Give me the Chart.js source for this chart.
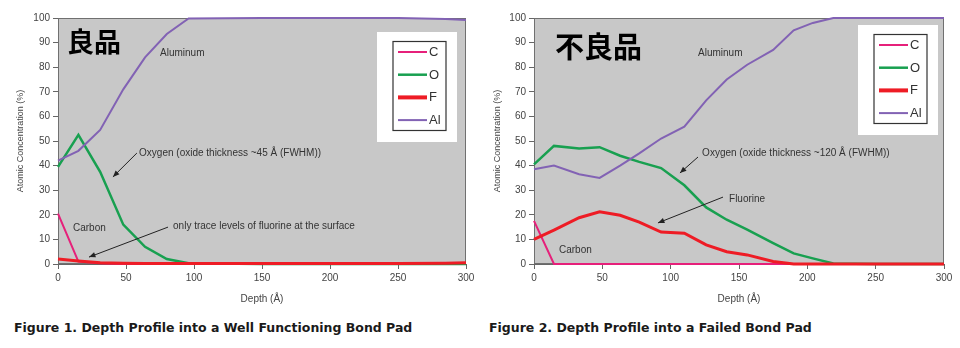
<!DOCTYPE html>
<html>
<head>
<meta charset="utf-8">
<script src="https://cdn.jsdelivr.net/npm/chart.js@4.4.1/dist/chart.umd.min.js"></script>
<style>
  body { margin: 0; background: #fff; width: 960px; height: 348px; overflow: hidden; position: relative; font-family: "Liberation Sans", Arial, sans-serif; }
  canvas { position: absolute; top: 0; }
  #c1 { left: 0; }
  #c2 { left: 480px; }
  .cap { position: absolute; top: 320px; font-family: "DejaVu Sans", Verdana, sans-serif; font-weight: bold; font-size: 12.5px; color: #1a1a1a; white-space: nowrap; }
</style>
</head>
<body>
<canvas id="c1" width="480" height="310"></canvas>
<canvas id="c2" width="480" height="310"></canvas>
<div class="cap" style="left:14px">Figure 1. Depth Profile into a Well Functioning Bond Pad</div>
<div class="cap" style="left:489px">Figure 2. Depth Profile into a Failed Bond Pad</div>
<script>
// tick labels
const xTicks = [0, 50, 100, 150, 200, 250, 300];
const yTicks = [0, 10, 20, 30, 40, 50, 60, 70, 80, 90, 100];
const elements = ['C', 'O', 'F', 'Al'];

// Figure 1 - good pad
const depth1 = [0, 15, 31, 48, 64, 80, 96, 150, 200, 250, 285, 300];
const carbon1 = [20.5, 1, 0.3, 0, 0, 0, 0, 0, 0, 0, 0, 0];
const oxygen1 = [39.5, 52.5, 37.5, 16, 7, 2, 0.3, 0, 0, 0, 0, 0];
const fluorine1 = [2, 1.2, 0.5, 0.3, 0.2, 0.2, 0.2, 0.2, 0.2, 0.2, 0.3, 0.5];
const aluminum1 = [42, 46, 54.5, 71, 84, 93.5, 99.8, 100, 100, 100, 99.6, 99.2];

// Figure 2 - failed pad
const depth2 = [0, 14.6, 33, 48, 63, 77, 93, 110, 126, 141, 156, 175, 190, 204, 219, 250, 300];
const carbon2 = [17.5, 0, 0, 0, 0, 0, 0, 0, 0, 0, 0, 0, 0, 0, 0, 0, 0];
const oxygen2 = [40.5, 48, 47, 47.5, 44, 41.5, 39, 32, 23, 18, 14, 8.5, 4.3, 2.3, 0.2, 0, 0];
const fluorine2 = [10, 13.8, 18.8, 21.2, 19.8, 17, 13, 12.5, 7.8, 5, 3.7, 1, 0, 0, 0, 0, 0];
const aluminum2 = [38.5, 40, 36.5, 35, 40, 45, 51, 55.8, 66.5, 75, 81, 87, 95, 98, 100, 100, 100];

const colors = ['#e6207a', '#18a050', '#ee1c25', '#8262b4'];
const widths = [2, 2.5, 3, 2];
const drawOrder = [3, 2, 0, 1]; // fluorine on top

const textFont = '10px "Liberation Sans", Arial, sans-serif';

function pts(xs, ys) {
    return xs.map((x, i) => ({ x: x, y: ys[i] }));
}

// background, frame, legend, labels and arrows
const decor = {
    id: 'decor',
    beforeDraw(chart) {
        const a = chart.chartArea, ctx = chart.ctx;
        ctx.save();
        ctx.fillStyle = '#c8c8c8';
        ctx.fillRect(a.left, a.top, a.width, a.height);
        ctx.restore();
    },
    beforeDatasetsDraw(chart) {
        const a = chart.chartArea, ctx = chart.ctx;
        ctx.save();
        ctx.strokeStyle = '#707070';
        ctx.lineWidth = 1;
        ctx.strokeRect(a.left + 0.5, a.top + 0.5, a.width - 1, a.height - 1);
        ctx.restore();
    },
    afterDatasetsDraw(chart, args, opts) {
        const a = chart.chartArea, ctx = chart.ctx;
        const xs = chart.scales.x, ys = chart.scales.y;
        ctx.save();

        // legend
        const x0 = a.right - opts.legendRight, y0 = a.top + opts.legendTop;
        ctx.fillStyle = '#fff';
        ctx.fillRect(x0, y0, 80, 110);
        ctx.strokeStyle = '#333';
        ctx.lineWidth = 1.2;
        ctx.strokeRect(x0 + 16, y0 + 9.5, 53, 89);
        ctx.font = '13px "Liberation Sans", Arial, sans-serif';
        ctx.textBaseline = 'middle';
        ctx.textAlign = 'left';
        chart.data.datasets.forEach((ds, i) => {
            const yy = y0 + 20 + i * 22.7;
            ctx.strokeStyle = ds.borderColor;
            ctx.lineWidth = i === 2 ? 4 : ds.borderWidth;
            ctx.beginPath();
            ctx.moveTo(x0 + 21, yy);
            ctx.lineTo(x0 + 50, yy);
            ctx.stroke();
            ctx.fillStyle = '#333';
            ctx.fillText(ds.label, x0 + 52, yy + 0.5);
        });

        // text labels
        opts.labels.forEach(l => {
            ctx.font = l.font || textFont;
            ctx.fillStyle = l.color || '#333';
            ctx.fillText(l.text, xs.getPixelForValue(l.x), ys.getPixelForValue(l.y));
        });

        // arrows
        ctx.strokeStyle = '#222';
        ctx.fillStyle = '#222';
        ctx.lineWidth = 1;
        opts.arrows.forEach(ar => {
            const x1 = xs.getPixelForValue(ar[0]), y1 = ys.getPixelForValue(ar[1]);
            const x2 = xs.getPixelForValue(ar[2]), y2 = ys.getPixelForValue(ar[3]);
            const ang = Math.atan2(y2 - y1, x2 - x1);
            ctx.beginPath();
            ctx.moveTo(x1, y1);
            ctx.lineTo(x2, y2);
            ctx.stroke();
            ctx.beginPath();
            ctx.moveTo(x2, y2);
            ctx.lineTo(x2 - 7 * Math.cos(ang - 0.4), y2 - 7 * Math.sin(ang - 0.4));
            ctx.lineTo(x2 - 7 * Math.cos(ang + 0.4), y2 - 7 * Math.sin(ang + 0.4));
            ctx.closePath();
            ctx.fill();
        });
        ctx.restore();
    }
};

function makeChart(id, depth, series, cfg) {
    const datasets = series.map((s, i) => ({
        label: elements[i],
        data: pts(depth, s),
        borderColor: colors[i],
        borderWidth: widths[i],
        pointRadius: 0,
        tension: 0,
        clip: false,
        order: drawOrder[i]
    }));

    return new Chart(document.getElementById(id).getContext('2d'), {
        type: 'line',
        data: { datasets: datasets },
        plugins: [decor],
        options: {
            responsive: false,
            animation: false,
            layout: { padding: { left: 0, top: 18, right: cfg.padRight, bottom: 0 } },
            plugins: {
                legend: { display: false },
                tooltip: { enabled: false },
                decor: cfg.decor
            },
            scales: {
                x: {
                    type: 'linear', min: 0, max: 300,
                    afterBuildTicks: s => { s.ticks = xTicks.map(v => ({ value: v })); },
                    afterFit: s => { s.height = 46; },
                    grid: { drawOnChartArea: false, tickLength: 5, color: '#666' },
                    border: { color: '#666' },
                    ticks: { color: '#444', font: { size: 10, family: '"Liberation Sans", Arial' }, padding: 3, maxRotation: 0 },
                    title: { display: true, text: 'Depth (Å)', color: '#444', font: { size: 10, family: '"Liberation Sans", Arial' }, padding: { top: 0, bottom: 5 } }
                },
                y: {
                    min: 0, max: 100,
                    afterBuildTicks: s => { s.ticks = yTicks.map(v => ({ value: v })); },
                    afterFit: s => { s.width = cfg.yWidth; },
                    grid: { drawOnChartArea: false, tickLength: 5, color: '#666' },
                    border: { color: '#666' },
                    ticks: { color: '#444', font: { size: 10, family: '"Liberation Sans", Arial' }, padding: 3 },
                    title: { display: true, text: 'Atomic Concentration (%)', color: '#444', font: { size: 9, family: '"Liberation Sans", Arial' }, padding: { top: cfg.titlePad, bottom: 0 } }
                }
            }
        }
    });
}

makeChart('c1', depth1, [carbon1, oxygen1, fluorine1, aluminum1], {
    padRight: 14, yWidth: 58, titlePad: 15,
    decor: {
        legendRight: 89, legendTop: 14,
        labels: [
            { text: '良品', x: 6.6, y: 90.5, font: 'bold 27px "Noto Sans CJK JP", sans-serif', color: '#000' },
            { text: 'Aluminum', x: 75, y: 85.8 },
            { text: 'Oxygen (oxide thickness ~45 Å (FWHM))', x: 59.6, y: 45.1 },
            { text: 'Carbon', x: 11, y: 14.6 },
            { text: 'only trace levels of fluorine at the surface', x: 84.6, y: 15.4 }
        ],
        arrows: [[58, 45.1, 40.4, 35.4], [80.9, 15, 22.8, 2.8]]
    }
});

makeChart('c2', depth2, [carbon2, oxygen2, fluorine2, aluminum2], {
    padRight: 16, yWidth: 54, titlePad: 12,
    decor: {
        legendRight: 86, legendTop: 7,
        labels: [
            { text: '不良品', x: 15.4, y: 88.2, font: 'bold 29px "Noto Sans CJK JP", sans-serif', color: '#000' },
            { text: 'Aluminum', x: 120, y: 85.8 },
            { text: 'Oxygen (oxide thickness ~120 Å (FWHM))', x: 123, y: 45.1 },
            { text: 'Fluorine', x: 142.7, y: 26.4 },
            { text: 'Carbon', x: 18.3, y: 5.7 }
        ],
        arrows: [[120, 43.5, 106.8, 37], [138.3, 27.2, 90.7, 16.7]]
    }
});
</script>
</body>
</html>
